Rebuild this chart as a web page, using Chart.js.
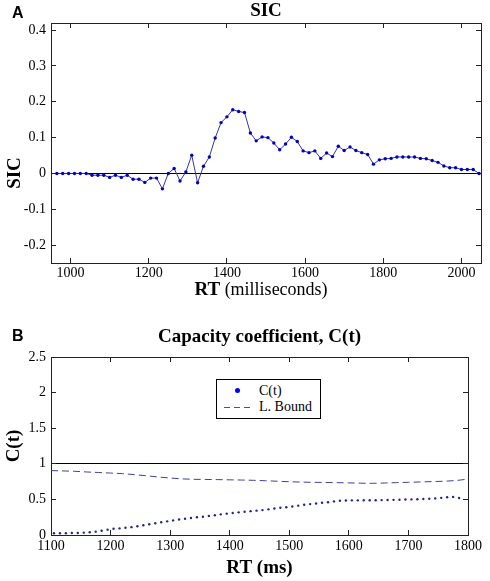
<!DOCTYPE html>
<html>
<head>
<meta charset="utf-8">
<script src="https://cdn.jsdelivr.net/npm/chart.js@4.4.1/dist/chart.umd.min.js"></script>
<style>
    body { margin: 0; background: #fff; }
    #wrap { position: relative; width: 490px; height: 581px; font-family: 'Liberation Serif', 'Times New Roman', serif; color: #000; }
    #wrap canvas { position: absolute; left: 0; }
    #sicChart { top: 0; }
    #capChart { top: 305px; }
    .panel { position: absolute; left: 12px; font: bold 16px 'Liberation Sans', Arial, sans-serif; line-height: 16px; }
    .ytitle { position: absolute; font-weight: bold; font-size: 19px; white-space: nowrap; transform: translate(-50%, -50%) rotate(-90deg); }
    .xtitle { position: absolute; font-size: 18px; white-space: nowrap; transform: translate(-50%, -50%); }
    .xtitle b { font-size: 19px; }
    #capLegend { position: absolute; left: 216px; top: 379px; width: 105px; height: 40px; box-sizing: border-box; border: 1px solid #000; background: #fff; font-size: 14px; }
    .lg-row { position: absolute; left: 0; width: 100%; height: 16px; line-height: 16px; }
    .lg-text { position: absolute; left: 42px; top: 0; }
    .lg-dot { position: absolute; left: 18px; top: 5px; width: 5px; height: 5px; border-radius: 50%; }
    .lg-dash { position: absolute; left: 7px; top: 8px; width: 28px; height: 1px; }
</style>
</head>
<body>
<div id="wrap">
    <canvas id="sicChart" width="490" height="305"></canvas>
    <canvas id="capChart" width="490" height="276"></canvas>
    <div class="panel" style="top: 5px;">A</div>
    <div class="panel" style="top: 328px;">B</div>
    <div class="ytitle" style="left: 14px; top: 173px;">SIC</div>
    <div class="xtitle" style="left: 261px; top: 289px;"><b>RT</b> (milliseconds)</div>
    <div id="capLegend"></div>
</div>
<script>
// Panel A: survivor interaction contrast
const sicRT = [
    965, 980, 995, 1010, 1025, 1040, 1055, 1070, 1085, 1100,
    1115, 1130, 1145, 1160, 1175, 1190, 1205, 1220, 1235, 1250,
    1265, 1280, 1295, 1310, 1325, 1340, 1355, 1370, 1385, 1400,
    1415, 1430, 1445, 1460, 1475, 1490, 1505, 1520, 1535, 1550,
    1565, 1580, 1595, 1610, 1625, 1640, 1655, 1670, 1685, 1700,
    1715, 1730, 1745, 1760, 1775, 1790, 1805, 1820, 1835, 1850,
    1865, 1880, 1895, 1910, 1925, 1940, 1955, 1970, 1985, 2000,
    2015, 2030, 2045
];
const sicValues = [
    0, 0, 0, 0, 0, 0, -0.005, -0.005, -0.005, -0.011,
    -0.005, -0.011, -0.005, -0.016, -0.016, -0.025, -0.013, -0.013, -0.043, 0,
    0.014, -0.021, 0.004, 0.051, -0.026, 0.02, 0.046, 0.099, 0.142, 0.158,
    0.178, 0.173, 0.17, 0.113, 0.091, 0.102, 0.1, 0.085, 0.066, 0.082,
    0.101, 0.089, 0.063, 0.058, 0.063, 0.042, 0.057, 0.047, 0.076, 0.064,
    0.074, 0.064, 0.058, 0.053, 0.026, 0.038, 0.041, 0.042, 0.046, 0.046,
    0.046, 0.046, 0.042, 0.041, 0.036, 0.031, 0.021, 0.016, 0.016, 0.011,
    0.011, 0.011, 0
];
const sicXTicks = [1000, 1200, 1400, 1600, 1800, 2000];
const sicYTicks = [-0.2, -0.1, 0, 0.1, 0.2, 0.3, 0.4];

// Panel B: capacity coefficient and its lower bound
const capRT = [
    1105, 1115, 1125, 1135, 1145, 1155, 1165, 1175, 1185, 1195,
    1205, 1215, 1225, 1235, 1245, 1255, 1265, 1275, 1285, 1295,
    1305, 1315, 1325, 1335, 1345, 1355, 1365, 1375, 1385, 1395,
    1405, 1415, 1425, 1435, 1445, 1455, 1465, 1475, 1485, 1495,
    1505, 1515, 1525, 1535, 1545, 1555, 1565, 1575, 1585, 1595,
    1605, 1615, 1625, 1635, 1645, 1655, 1665, 1675, 1685, 1695,
    1705, 1715, 1725, 1735, 1745, 1755, 1765, 1775, 1785
];
const capValues = [
    0.024, 0.024, 0.025, 0.028, 0.029, 0.033, 0.038, 0.047, 0.06, 0.075,
    0.087, 0.093, 0.101, 0.11, 0.123, 0.137, 0.151, 0.165, 0.179, 0.192,
    0.205, 0.218, 0.228, 0.238, 0.249, 0.257, 0.268, 0.278, 0.29, 0.3,
    0.31, 0.318, 0.326, 0.335, 0.342, 0.35, 0.36, 0.372, 0.382, 0.39,
    0.4, 0.412, 0.425, 0.434, 0.443, 0.452, 0.461, 0.472, 0.48, 0.485,
    0.487, 0.487, 0.488, 0.488, 0.489, 0.49, 0.492, 0.494, 0.496, 0.498,
    0.5, 0.502, 0.505, 0.51, 0.514, 0.522, 0.53, 0.535, 0.52
];
const boundRT = [
    1100, 1120, 1140, 1160, 1180, 1200, 1220, 1240, 1260, 1280,
    1300, 1320, 1340, 1360, 1380, 1400, 1420, 1440, 1460, 1480,
    1500, 1520, 1540, 1560, 1580, 1600, 1620, 1640, 1660, 1680,
    1700, 1720, 1740, 1760, 1780, 1800
];
const boundValues = [
    0.905, 0.9, 0.895, 0.885, 0.878, 0.87, 0.862, 0.848, 0.832, 0.815,
    0.8, 0.788, 0.782, 0.78, 0.778, 0.775, 0.772, 0.768, 0.762, 0.755,
    0.748, 0.743, 0.74, 0.738, 0.735, 0.732, 0.728, 0.726, 0.73, 0.736,
    0.74, 0.745, 0.75, 0.755, 0.765, 0.785
];
const capXTicks = [1100, 1200, 1300, 1400, 1500, 1600, 1700, 1800];
const capYTicks = [0, 0.5, 1, 1.5, 2, 2.5];

const serif = "'Liberation Serif', 'Times New Roman', serif";
const axisColor = '#222';

Chart.defaults.font.family = serif;
Chart.defaults.color = '#000';

function toPoints(xs, ys) {
    return xs.map((x, i) => ({ x: x, y: ys[i] }));
}

// MATLAB style box: inward ticks on all four sides, one reference line
function boxScales(o) {
    const fixTicks = (list) => (scale) => { scale.ticks = list.map(v => ({ value: v })); };
    const tickFont = { family: serif, size: 14 };
    const edgeGrid = { drawOnChartArea: false, tickLength: -5, color: axisColor };
    return {
        x: {
            type: 'linear', position: 'bottom', min: o.xMin, max: o.xMax,
            afterBuildTicks: fixTicks(o.xTicks),
            afterFit: (s) => { s.height = o.bottomHeight; },
            grid: edgeGrid,
            border: { color: axisColor },
            ticks: { font: tickFont, color: '#000', padding: o.xPad, maxRotation: 0, autoSkip: false, callback: (v) => String(v) },
            title: o.xTitle || { display: false }
        },
        y: {
            type: 'linear', position: 'left', min: o.yMin, max: o.yMax,
            afterBuildTicks: fixTicks(o.yTicks),
            afterFit: (s) => { s.width = 51; },
            grid: {
                tickLength: -5,
                tickColor: axisColor,
                color: (c) => (c.tick && c.tick.value === o.refLine ? '#000' : 'rgba(0,0,0,0)')
            },
            border: { color: axisColor },
            ticks: { font: tickFont, color: '#000', padding: 10, autoSkip: false, callback: (v) => String(v) },
            title: o.yTitle || { display: false }
        },
        x2: {
            type: 'linear', position: 'top', min: o.xMin, max: o.xMax,
            afterBuildTicks: fixTicks(o.xTicks),
            afterFit: (s) => { s.height = 0; },
            grid: edgeGrid,
            border: { color: axisColor },
            ticks: { display: false }
        },
        y2: {
            type: 'linear', position: 'right', min: o.yMin, max: o.yMax,
            afterBuildTicks: fixTicks(o.yTicks),
            afterFit: (s) => { s.width = o.rightWidth; },
            grid: edgeGrid,
            border: { color: axisColor },
            ticks: { display: false }
        }
    };
}

const titleFont = { family: serif, size: 19, weight: 'bold' };

// Panel A
new Chart(document.getElementById('sicChart'), {
    type: 'line',
    data: {
        datasets: [{
            label: 'SIC',
            data: toPoints(sicRT, sicValues),
            borderColor: '#3434a4',
            borderWidth: 1,
            pointRadius: 1.7,
            pointBorderWidth: 0,
            pointBackgroundColor: '#0000c4',
            tension: 0
        }]
    },
    options: {
        responsive: false,
        animation: false,
        layout: { padding: 0 },
        scales: boxScales({
            xMin: 950, xMax: 2050, yMin: -0.25, yMax: 0.42,
            xTicks: sicXTicks, yTicks: sicYTicks, refLine: 0,
            bottomHeight: 42, rightWidth: 9, xPad: 7
        }),
        plugins: {
            legend: { display: false },
            tooltip: { enabled: false },
            title: {
                display: true,
                text: 'SIC',
                fullSize: false,
                color: '#000',
                font: titleFont,
                padding: { top: 0, bottom: 0.2 }
            }
        }
    }
});

// Panel B
const capChart = new Chart(document.getElementById('capChart'), {
    type: 'line',
    data: {
        datasets: [
            {
                label: 'C(t)',
                data: toPoints(capRT, capValues),
                showLine: false,
                pointRadius: 1.2,
                pointBorderWidth: 0,
                pointBackgroundColor: '#24248c',
                legendColor: '#0000ff'
            },
            {
                label: 'L. Bound',
                data: toPoints(boundRT, boundValues),
                borderColor: '#3e3ea2',
                borderWidth: 1,
                borderDash: [7, 4],
                pointRadius: 0,
                tension: 0,
                legendColor: '#4a4aaa'
            }
        ]
    },
    options: {
        responsive: false,
        animation: false,
        layout: { padding: 0 },
        scales: boxScales({
            xMin: 1100, xMax: 1800, yMin: 0, yMax: 2.5,
            xTicks: capXTicks, yTicks: capYTicks, refLine: 1,
            bottomHeight: 46, rightWidth: 19, xPad: 8,
            xTitle: { display: true, text: 'RT (ms)', color: '#000', font: titleFont, padding: { top: 0, bottom: 1.6 } },
            yTitle: { display: true, text: 'C(t)', color: '#000', font: titleFont, padding: { top: 2.6, bottom: 0 } }
        }),
        plugins: {
            legend: { display: false },
            tooltip: { enabled: false },
            title: {
                display: true,
                text: 'Capacity coefficient, C(t)',
                fullSize: false,
                color: '#000',
                font: titleFont,
                padding: { top: 20.3, bottom: 8.9 }
            }
        }
    }
});

// Boxed legend inside the plot area, built from the datasets
function buildLegend(chart, boxId) {
    const box = document.getElementById(boxId);
    chart.data.datasets.forEach((ds, i) => {
        const row = document.createElement('div');
        row.className = 'lg-row';
        row.style.top = (3 + i * 16) + 'px';
        const key = document.createElement('span');
        if (ds.showLine === false) {
            key.className = 'lg-dot';
            key.style.background = ds.legendColor;
        } else {
            key.className = 'lg-dash';
            key.style.background = `repeating-linear-gradient(90deg, ${ds.legendColor} 0 6px, transparent 6px 10px)`;
        }
        const text = document.createElement('span');
        text.className = 'lg-text';
        text.textContent = ds.label;
        row.appendChild(key);
        row.appendChild(text);
        box.appendChild(row);
    });
}
buildLegend(capChart, 'capLegend');
</script>
</body>
</html>
